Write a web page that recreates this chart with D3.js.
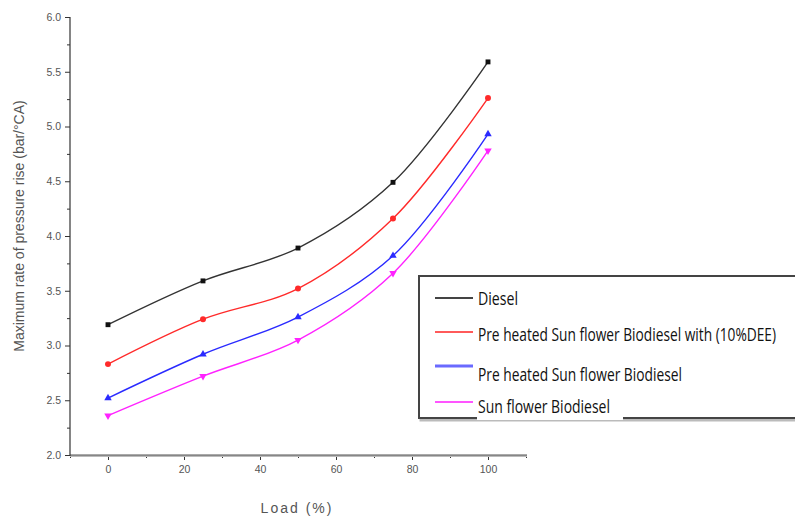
<!DOCTYPE html>
<html>
<head>
<meta charset="utf-8">
<script src="https://cdn.jsdelivr.net/npm/d3@7"></script>
<style>
  body { margin: 0; background: #fff; }
  svg { display: block; }
  .tick text { font-family: "Liberation Sans", Arial, sans-serif; fill: #555; }
</style>
</head>
<body>
<div id="root"></div>
<script>
// data
const loads = [0, 25, 50, 75, 100];
const diesel = [3.19, 3.59, 3.89, 4.49, 5.59];
const preheatedDee = [2.83, 3.24, 3.52, 4.16, 5.26];
const preheated = [2.52, 2.92, 3.26, 3.82, 4.93];
const sunflower = [2.36, 2.72, 3.05, 3.66, 4.78];
const seriesNames = [
  "Diesel",
  "Pre heated Sun flower Biodiesel with (10%DEE)",
  "Pre heated Sun flower Biodiesel",
  "Sun flower Biodiesel"
];
const xTicks = [0, 20, 40, 60, 80, 100];
const yTicks = [2.0, 2.5, 3.0, 3.5, 4.0, 4.5, 5.0, 5.5, 6.0];

const width = 795, height = 517;
const colors = ["#333333", "#ff2a2a", "#2a2aff", "#ff22ff"];
const legendColors = ["#444444", "#ff5a5a", "#6a6aff", "#ff55ff"];
const symbols = [d3.symbolSquare, d3.symbolCircle, d3.symbolTriangle, "down"];

const svg = d3.select("#root").append("svg")
  .attr("width", width).attr("height", height);

const x = d3.scaleLinear().domain([-10, 110]).range([70, 526]);
const y = d3.scaleLinear().domain([2, 6]).range([455, 17]);

// axes
const xAxis = d3.axisBottom(x).tickValues(xTicks).tickSize(5).tickPadding(6)
  .tickFormat(d3.format("d"));
const xMinor = d3.axisBottom(x).tickValues(d3.range(-10, 111, 10).filter(v => v % 20 !== 0))
  .tickSize(3).tickFormat("");
const yAxis = d3.axisLeft(y).tickValues(yTicks).tickSize(5).tickPadding(4)
  .tickFormat(d3.format(".1f"));
const yMinor = d3.axisLeft(y).tickValues(d3.range(2.25, 6, 0.5)).tickSize(3).tickFormat("");

function styleAxis(g) {
  g.select(".domain").remove();
  g.selectAll("line").attr("stroke", "#333");
  g.selectAll("text").attr("font-size", 10.5);
}

svg.append("g").attr("transform", "translate(0,455)").call(xMinor).call(styleAxis);
svg.append("g").attr("transform", "translate(0,455)").call(xAxis).call(styleAxis);
svg.append("g").attr("transform", "translate(70,0)").call(yMinor).call(styleAxis);
svg.append("g").attr("transform", "translate(70,0)").call(yAxis).call(styleAxis);

// axis lines
svg.append("line").attr("x1", 70).attr("x2", 527).attr("y1", 456).attr("y2", 456)
  .attr("stroke", "#bbb").attr("stroke-width", 2);
svg.append("line").attr("x1", 70).attr("x2", 527).attr("y1", 455).attr("y2", 455)
  .attr("stroke", "#555").attr("stroke-width", 1.2);
svg.append("line").attr("x1", 70).attr("x2", 70).attr("y1", 17).attr("y2", 456)
  .attr("stroke", "#333").attr("stroke-width", 1.2);

// axis titles
svg.append("text")
  .attr("transform", "translate(24,226) rotate(-90)")
  .attr("text-anchor", "middle")
  .attr("font-family", "Liberation Sans, Arial, sans-serif")
  .attr("font-size", 14).attr("fill", "#555")
  .text("Maximum rate of pressure rise (bar/°CA)");

svg.append("text")
  .attr("x", 297).attr("y", 513)
  .attr("text-anchor", "middle")
  .attr("font-family", "Liberation Sans, Arial, sans-serif")
  .attr("font-size", 14).attr("fill", "#555")
  .attr("letter-spacing", 2)
  .text("Load (%)");

// series
const allSeries = [diesel, preheatedDee, preheated, sunflower];
const line = d3.line()
  .x((d, i) => x(loads[i]))
  .y(d => y(d))
  .curve(d3.curveCatmullRom.alpha(0.5));

allSeries.forEach((vals, s) => {
  svg.append("path").datum(vals)
    .attr("d", line)
    .attr("fill", "none")
    .attr("stroke", colors[s])
    .attr("stroke-width", 1.4);

  const sym = symbols[s] === "down" ? d3.symbolTriangle : symbols[s];
  svg.append("g").selectAll("path")
    .data(vals)
    .enter()
    .append("path")
    .attr("d", d3.symbol().type(sym).size(s === 1 ? 28 : 24))
    .attr("transform", (d, i) =>
      `translate(${x(loads[i])},${y(d)})` + (symbols[s] === "down" ? " rotate(180)" : ""))
    .attr("fill", colors[s] === "#333333" ? "#111" : colors[s]);
});

// legend
const legend = svg.append("g");
legend.append("rect")
  .attr("x", 421).attr("y", 278).attr("width", 400).attr("height", 142)
  .attr("fill", "none").attr("stroke", "#bbb").attr("stroke-width", 3);
legend.append("rect")
  .attr("x", 419).attr("y", 276).attr("width", 400).attr("height", 142)
  .attr("fill", "#fff").attr("stroke", "#444").attr("stroke-width", 2);

const legendLineY = [298, 332, 366, 402];
const legendTextY = [305, 341, 381, 413];
const legendTextLen = [40, 298, 204, 132];

seriesNames.forEach((name, i) => {
  legend.append("line")
    .attr("x1", 435).attr("x2", 473)
    .attr("y1", legendLineY[i]).attr("y2", legendLineY[i])
    .attr("stroke", legendColors[i])
    .attr("stroke-width", i === 2 ? 3 : 2);
  if (i === 3) {
    legend.append("rect")
      .attr("x", 477).attr("y", 398).attr("width", 146).attr("height", 22)
      .attr("fill", "#fff");
  }
  legend.append("text")
    .attr("x", 478).attr("y", legendTextY[i])
    .attr("font-family", "Open Sans, sans-serif")
    .attr("font-size", 19)
    .attr("fill", "#111")
    .attr("textLength", legendTextLen[i])
    .attr("lengthAdjust", "spacingAndGlyphs")
    .text(name);
});
</script>
</body>
</html>
